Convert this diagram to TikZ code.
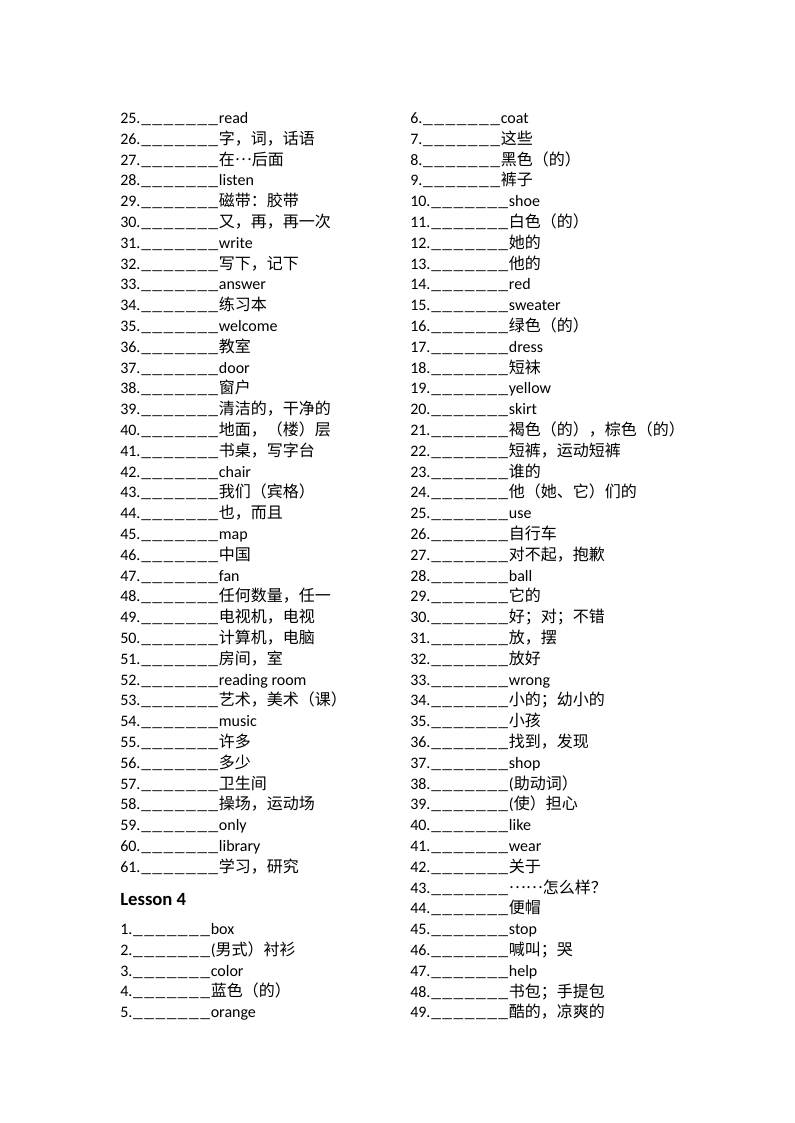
\documentclass[tikz,border=0pt]{standalone}
\usepackage{fontspec}
\usepackage{graphicx}
\setmainfont{Carlito}
\newfontfamily\cjk{Noto Sans CJK SC}
\newcommand\blankbit{\makebox[8.4pt]{\scalebox{1.22}[1]{\_}}}
\newcommand\blankline{\blankbit\blankbit\blankbit\blankbit\blankbit\blankbit\blankbit}
\newcommand\middots[1]{\raisebox{0.3em}{#1}}

\begin{document}
\begin{tikzpicture}[x=0.75pt,y=-0.75pt,
  entry/.style={anchor=base west, inner sep=0pt, font=\fontsize{12pt}{14pt}\selectfont},
  heading/.style={anchor=base west, inner sep=0pt, font=\fontsize{14pt}{17pt}\selectfont\bfseries}]
		%%%%% START %%%%%
		\useasboundingbox (0,0) rectangle (794,1123);
		
		% left column
		\foreach \n/\w [count=\i from 0] in {25/read, 26/\cjk 字，词，话语, 27/\cjk 在\middots{…}后面,
			28/listen, 29/\cjk 磁带：胶带, 30/\cjk 又，再，再一次, 31/write, 32/\cjk 写下，记下,
			33/answer, 34/\cjk 练习本, 35/welcome, 36/\cjk 教室, 37/door, 38/\cjk 窗户,
			39/\cjk 清洁的，干净的, 40/\cjk 地面，（楼）层, 41/\cjk 书桌，写字台, 42/chair,
			43/\cjk 我们（宾格）, 44/\cjk 也，而且, 45/map, 46/\cjk 中国, 47/fan,
			48/\cjk 任何数量，任一, 49/\cjk 电视机，电视, 50/\cjk 计算机，电脑, 51/\cjk 房间，室,
			52/reading room, 53/\cjk 艺术，美术（课）, 54/music, 55/\cjk 许多, 56/\cjk 多少,
			57/\cjk 卫生间, 58/\cjk 操场，运动场, 59/only, 60/library, 61/\cjk 学习，研究}
			\node[entry] (l\n) at (120, {123.5+20.8*\i}) {\n.\blankline\w};
		
		\node[heading] (lesson) at (120, 905) {Lesson 4};
		
		\foreach \n/\w [count=\i from 0] in {1/box, 2/(\cjk 男式）衬衫, 3/color, 4/\cjk 蓝色（的）, 5/orange}
			\node[entry] (l\n) at (120, {934.5+20.8*\i}) {\n.\blankline\w};
		
		% right column
		\foreach \n/\w [count=\i from 0] in {6/coat, 7/\cjk 这些, 8/\cjk 黑色（的）, 9/\cjk 裤子,
			10/shoe, 11/\cjk 白色（的）, 12/\cjk 她的, 13/\cjk 他的, 14/red, 15/sweater,
			16/\cjk 绿色（的）, 17/dress, 18/\cjk 短袜, 19/yellow, 20/skirt,
			21/\cjk 褐色（的），棕色（的）, 22/\cjk 短裤，运动短裤, 23/\cjk 谁的,
			24/\cjk 他（她、它）们的, 25/use, 26/\cjk 自行车, 27/\cjk 对不起，抱歉, 28/ball,
			29/\cjk 它的, 30/\cjk 好；对；不错, 31/\cjk 放，摆, 32/\cjk 放好, 33/wrong,
			34/\cjk 小的；幼小的, 35/\cjk 小孩, 36/\cjk 找到，发现, 37/shop, 38/(\cjk 助动词）,
			39/(\cjk 使）担心, 40/like, 41/wear, 42/\cjk 关于, 43/\cjk \middots{……}怎么样？, 44/\cjk 便帽,
			45/stop, 46/\cjk 喊叫；哭, 47/help, 48/\cjk 书包；手提包, 49/\cjk 酷的，凉爽的}
			\node[entry] (r\n) at (410, {123.5+20.8*\i}) {\n.\blankline\w};
		
		%%%%% END %%%%%
\end{tikzpicture}
\end{document}
